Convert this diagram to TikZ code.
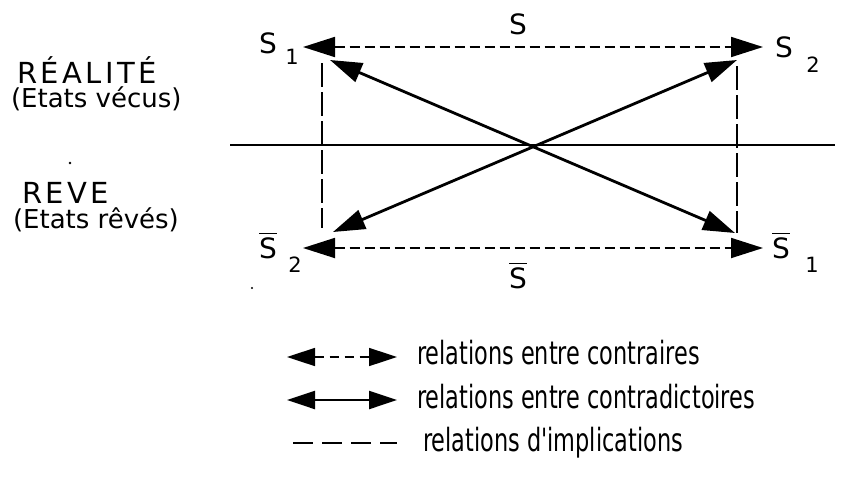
\documentclass[tikz,border=0pt]{standalone}
\usepackage{fontspec}
\setmainfont{DejaVu Sans}
\newfontfamily\lblfont[LetterSpace=12]{DejaVu Sans}
\newfontfamily\legfont[FakeStretch=0.7]{DejaVu Sans}
\usetikzlibrary{arrows.meta}
\begin{document}
\begin{tikzpicture}[x=1pt,y=-1pt,
  >={Triangle[length=32pt,width=20pt]},
  txt/.style={inner sep=0pt,outer sep=0pt},
  bigS/.style={txt,font=\fontsize{28}{28}\selectfont},
  subs/.style={txt,font=\fontsize{21}{21}\selectfont},
  side/.style={txt,anchor=base west,font=\lblfont\fontsize{29}{29}\selectfont},
  sidep/.style={txt,anchor=base west,font=\fontsize{26}{26}\selectfont},
  legtxt/.style={txt,anchor=base west,font=\legfont\fontsize{32}{32}\selectfont},
  contraire/.style={line width=1.8pt,dash pattern=on 10pt off 5pt,<->},
  contradict/.style={line width=2.8pt,<->},
  implic/.style={line width=1.8pt,dash pattern=on 24pt off 5pt},
  bar/.style={line width=1.6pt},
  midline/.style={line width=2.2pt}]
\useasboundingbox (0,0) rectangle (851,490);

% endpoints
\coordinate (t1) at (303,47);
\coordinate (t2) at (763,47);
\coordinate (b1) at (303,248);
\coordinate (b2) at (763,248);
\coordinate (d1) at (330,60);
\coordinate (d2) at (737,60);
\coordinate (d3) at (333,232);
\coordinate (d4) at (735,233);
\coordinate (v1a) at (322,63);
\coordinate (v1b) at (322,228);
\coordinate (v2a) at (737,66);
\coordinate (v2b) at (737,233);
\coordinate (h1) at (230,145);
\coordinate (h2) at (835,145);

% horizontal separation line
\draw[midline] (h1) -- (h2);

% implication lines
\draw[implic] (v1a) -- (v1b);
\draw[implic] (v2a) -- (v2b);

% contraries
\draw[contraire] (t1) -- (t2);
\draw[contraire] (b1) -- (b2);

% contradictories
\draw[contradict] (d1) -- (d4);
\draw[contradict] (d3) -- (d2);

% labels
\node[bigS] (s1) at (268,43) {S};
\node[subs] (s1i) at (292,57) {1};
\node[bigS] (s2) at (784,47) {S};
\node[subs] (s2i) at (813,65) {2};
\node[bigS] (ns2) at (268,248) {S};
\node[subs] (ns2i) at (295,265) {2};
\node[bigS] (ns1) at (781,248) {S};
\node[subs] (ns1i) at (812,265) {1};
\node[bigS] (stop) at (518,24) {S};
\node[bigS] (sbot) at (518,278) {S};
\draw[bar] ([yshift=4pt]ns2.north west) -- ([yshift=4pt]ns2.north east);
\draw[bar] ([yshift=4pt]ns1.north west) -- ([yshift=4pt]ns1.north east);
\draw[bar] ([yshift=4pt]sbot.north west) -- ([yshift=4pt]sbot.north east);

% side texts
\node[side] (real) at (17,83) {RÉALITÉ};
\node[sidep] (vecus) at (11,107) {(Etats vécus)};
\node[side] (reve) at (22,203) {REVE};
\node[sidep] (reves) at (13,228) {(Etats rêvés)};

% stray dots
\fill (70,163) circle (1.3pt);
\fill (252,288) circle (1.1pt);

% legend
\coordinate (l1a) at (287,357); \coordinate (l1b) at (397,357);
\coordinate (l2a) at (287,400); \coordinate (l2b) at (397,400);
\coordinate (l3a) at (293,443); \coordinate (l3b) at (397,443);
\draw[line width=1.6pt,dash pattern=on 9pt off 6pt,{Triangle[length=28pt,width=18pt]}-{Triangle[length=28pt,width=18pt]}] (l1a) -- (l1b);
\draw[line width=2.4pt,{Triangle[length=28pt,width=18pt]}-{Triangle[length=28pt,width=18pt]}] (l2a) -- (l2b);
\draw[line width=2pt,dash pattern=on 20pt off 9pt] (l3a) -- (l3b);
\node[legtxt] (leg1) at (417,364) {relations entre contraires};
\node[legtxt] (leg2) at (417,408) {relations entre contradictoires};
\node[legtxt] (leg3) at (423,451) {relations d'implications};
\end{tikzpicture}
\end{document}
